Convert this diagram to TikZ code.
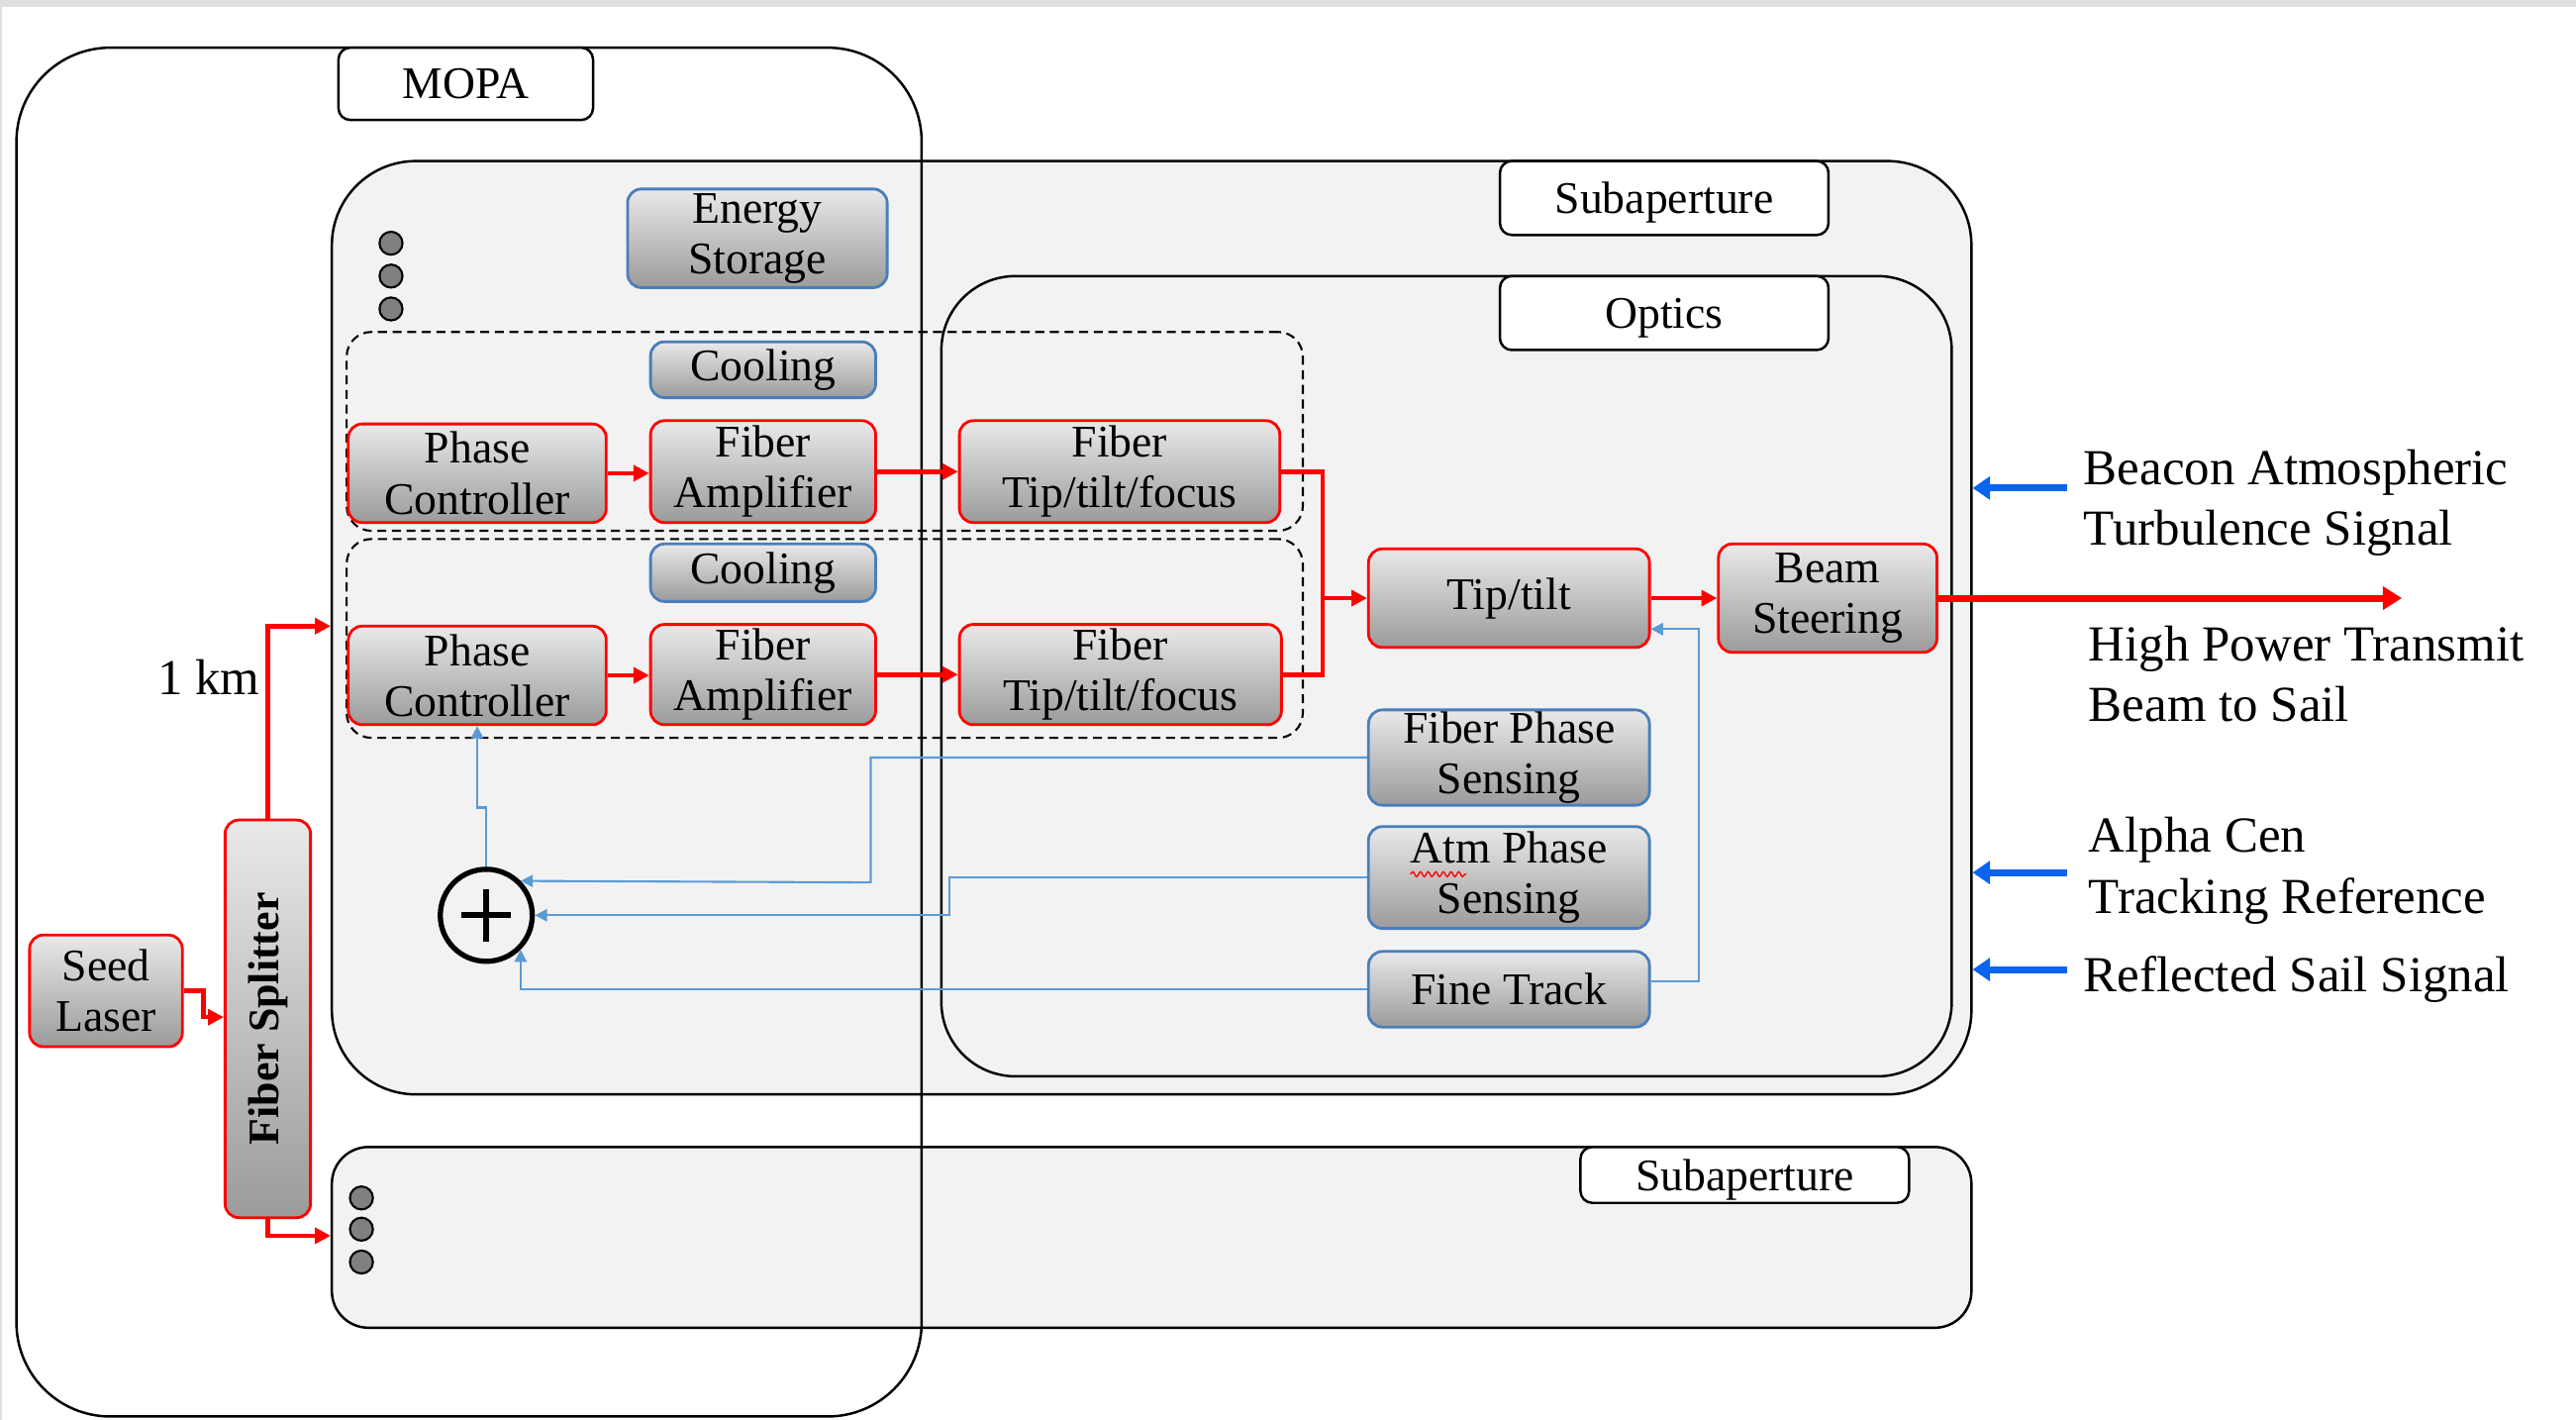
\documentclass[tikz,border=0pt]{standalone}
\usepackage{fontspec}
\setmainfont{Liberation Serif}
\usetikzlibrary{arrows.meta,calc,decorations.pathmorphing}
\definecolor{panel}{HTML}{F2F2F2}
\definecolor{gtop}{HTML}{E9E9E9}
\definecolor{gbot}{HTML}{9B9B9B}
\definecolor{bborder}{HTML}{4A7EBB}
\definecolor{thinblue}{HTML}{5B9BD5}
\definecolor{sigblue}{HTML}{0A64F0}
\definecolor{topgray}{HTML}{DEDFE1}
\definecolor{dotgray}{HTML}{808080}
\def\U{0.016594cm}
\newcommand\bxfont{\fontsize{13}{14.6}\selectfont}
\newcommand\sdfont{\fontsize{14.5}{17.5}\selectfont}
% \bx{style}{name}{x1}{y1}{x2}{y2}{text}
\newcommand\bx[7]{\node[#1, minimum width={(#5-#3)*\U}, minimum height={(#6-#4)*\U}] (#2) at ({(#3+#5)/2},{(#4+#6)/2}) {#7};}
\begin{document}
\begin{tikzpicture}[x=\U, y=-\U,
  panelbox/.style={draw=black, line width=0.7pt, fill=panel, inner sep=0pt},
  outline/.style={draw=black, line width=0.7pt, inner sep=0pt},
  labelbox/.style={draw=black, line width=0.7pt, fill=white, rounded corners=0.12cm, inner sep=0pt, font=\bxfont},
  gbox/.style={rounded corners=0.14cm, top color=gtop, bottom color=gbot, line width=0.8pt, inner sep=0pt, align=center, font=\bxfont},
  redbox/.style={gbox, draw=red},
  bluebox/.style={gbox, draw=bborder},
  dashbox/.style={draw=black, dash pattern=on 2.6pt off 1.6pt, line width=0.6pt, rounded corners=0.25cm, inner sep=0pt},
  redarr/.style={draw=red, line width=1.3pt, -{Triangle[length=4.5pt,width=4.5pt]}},
  redline/.style={draw=red, line width=1.3pt},
  bigred/.style={draw=red, line width=2pt, -{Triangle[length=5.5pt,width=6.5pt]}},
  thinarr/.style={draw=thinblue, line width=0.6pt, -{Triangle[length=3.5pt,width=3.5pt]}},
  sigarr/.style={draw=sigblue, line width=2pt, -{Triangle[length=5pt,width=6.5pt]}},
  sidetext/.style={anchor=west, inner sep=0pt, align=left, font=\sdfont},
  dot/.style={circle, draw=black, fill=dotgray, line width=0.6pt, minimum size={14*\U}, inner sep=0pt}
]
\useasboundingbox (0,0) rectangle (1568,864);
\fill[topgray] (0,0) rectangle (1568,4);
\fill[topgray] (0,0) rectangle (1.2,864);

% panels
\bx{panelbox, rounded corners=0.85cm}{sub1}{202}{98}{1200}{666}{}
\bx{panelbox, rounded corners=0.37cm}{sub2}{202}{698}{1200}{808}{}
\bx{panelbox, rounded corners=0.75cm}{optics}{573}{168}{1188}{655}{}
\bx{labelbox, text depth=0pt}{sub1lbl}{913}{98}{1113}{143}{Subaperture}
\bx{labelbox, text depth=0pt}{opticslbl}{913}{168}{1113}{213}{Optics}
\bx{labelbox, text depth=0pt}{sub2lbl}{962}{698}{1162}{732}{Subaperture}

% dashed groups
\bx{dashbox}{d1}{211}{202}{793}{323}{}
\bx{dashbox}{d2}{211}{328}{793}{449}{}

% MOPA
\bx{outline, rounded corners=0.95cm}{mopa}{10}{29}{561}{862}{}
\bx{labelbox}{mopalbl}{206}{29}{361}{73}{MOPA}

% inner boxes
\bx{bluebox}{es}{382}{115}{540}{175}{Energy\\Storage}
\bx{bluebox}{cool1}{396}{208}{533}{242}{Cooling}
\bx{bluebox}{cool2}{396}{331}{533}{366}{Cooling}
\bx{redbox}{pc1}{212}{258}{369}{318}{Phase\\Controller}
\bx{redbox}{fa1}{396}{256}{533}{318}{Fiber\\Amplifier}
\bx{redbox}{ftt1}{584}{256}{779}{318}{Fiber\\Tip/tilt/focus}
\bx{redbox}{pc2}{212}{381}{369}{441}{Phase\\Controller}
\bx{redbox}{fa2}{396}{380}{533}{441}{Fiber\\Amplifier}
\bx{redbox}{ftt2}{584}{380}{780}{441}{Fiber\\Tip/tilt/focus}
\bx{redbox}{tt}{833}{334}{1004}{394}{Tip/tilt}
\bx{redbox}{bs}{1046}{331}{1179}{397}{Beam\\Steering}
\bx{bluebox}{fps}{833}{432}{1004}{490}{Fiber Phase\\Sensing}
\bx{bluebox}{aps}{833}{503}{1004}{565}{Atm Phase\\Sensing}
\bx{bluebox}{ft}{833}{579}{1004}{625}{Fine Track}
\bx{redbox}{seed}{18}{569}{111}{637}{Seed\\Laser}
\bx{redbox}{split}{137}{499}{189}{741}{}
\node[rotate=90, inner sep=0pt, font=\bfseries\fontsize{12.5}{14}\selectfont] (splittxt) at (split.center) {Fiber Splitter};

% spell-check squiggle under "Atm"
\draw[red, line width=0.4pt, decorate, decoration={snake, amplitude=0.7pt, segment length=2.2pt}]
  ($(aps.center)+(-60,-2)$) -- ($(aps.center)+(-26,-2)$);

% dots
\node[dot] (dA1) at (238,148) {};
\node[dot] (dA2) at (238,168) {};
\node[dot] (dA3) at (238,188) {};
\node[dot] (dB1) at (220,729) {};
\node[dot] (dB2) at (220,748) {};
\node[dot] (dB3) at (220,768) {};

% summing junction
\node[circle, draw=black, line width=1.5pt, minimum size={56*\U}, inner sep=0pt] (sum) at (296,557) {};
\draw[line width=1.8pt] ($(sum.center)+(-15,0)$) -- ($(sum.center)+(15,0)$);
\draw[line width=1.8pt] ($(sum.center)+(0,-16)$) -- ($(sum.center)+(0,16)$);

% red optical path
\draw[redarr] (pc1.east) -- (pc1.east -| fa1.west);
\draw[redarr] (fa1.east) -- (fa1.east -| ftt1.west);
\draw[redarr] (pc2.east) -- (pc2.east -| fa2.west);
\draw[redarr] (fa2.east) -- (fa2.east -| ftt2.west);
\coordinate (jn) at (805,364);
\draw[redline] (ftt1.east) -- (ftt1.east -| jn) -- (ftt2.east -| jn) -- (ftt2.east);
\draw[redarr] (jn) -- (tt.west);
\draw[redarr] (tt.east) -- (tt.east -| bs.west);
\coordinate (beamend) at (1462,364);
\draw[bigred] (bs.east) -- (beamend);
\draw[redarr] (seed.east) -- ++(12,0) -- ++(0,16) -- (split.west |- 0,619);
\draw[redarr] (split.north) |- (sub1.west |- 0,381);
\draw[redarr] (split.south) |- (sub2.west |- 0,752);
\node[inner sep=0pt, font=\sdfont] (km) at (127,412) {1 km};

% thin blue control paths
\draw[thinarr] (fps.west) -| (530,537) -- (sum.45);
\draw[thinarr] (aps.west) -| (578,557) -- (sum.east);
\draw[thinarr] (ft.west) -| (sum.-45);
\draw[thinarr] ($(ft.east)+(0,-5)$) -- ++(29,0) |- ($(tt.south east)+(0,-12)$);
\draw[thinarr] (sum.north) -- ++(0,-36) -| (pc2.south);

% external signals
\coordinate (s1) at (1258,297);
\coordinate (s2) at (1258,531);
\coordinate (s3) at (1258,590);
\draw[sigarr] (s1) -- (s1 -| sub1.east);
\draw[sigarr] (s2) -- (s2 -| sub1.east);
\draw[sigarr] (s3) -- (s3 -| sub1.east);
\node[sidetext] (t1) at (1268,306) {Beacon Atmospheric\\Turbulence Signal};
\node[sidetext] (t2) at (1271,410) {High Power Transmit\\Beam to Sail};
\node[sidetext] (t3) at (1271,530) {Alpha Cen\\Tracking Reference};
\node[sidetext] (t4) at (1268,596) {Reflected Sail Signal};
\end{tikzpicture}
\end{document}
